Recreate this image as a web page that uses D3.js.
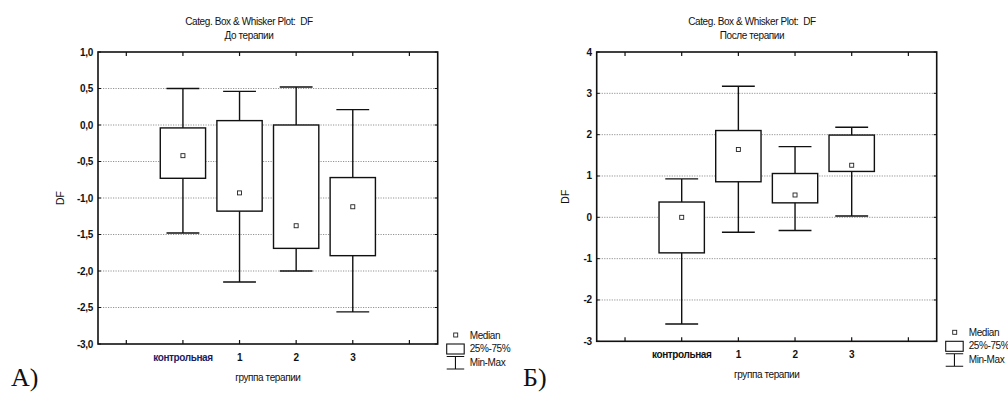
<!DOCTYPE html>
<html>
<head>
<meta charset="utf-8">
<script src="https://cdnjs.cloudflare.com/ajax/libs/d3/7.8.5/d3.min.js"></script>
<style>
  body { margin: 0; background: #fff; }
  svg { display: block; }
  text { font-family: "Liberation Sans", Arial, sans-serif; fill: #111; }
</style>
</head>
<body>
<svg width="1008" height="394"></svg>
<script>
// categories (same for both panels)
var categories = ["контрольная", "1", "2", "3"];

// До терапии
var beforeMin    = [-1.48, -2.15, -2.00, -2.56];
var beforeQ1     = [-0.73, -1.18, -1.69, -1.79];
var beforeMedian = [-0.42, -0.93, -1.38, -1.12];
var beforeQ3     = [-0.04,  0.06,  0.00, -0.72];
var beforeMax    = [ 0.50,  0.46,  0.52,  0.21];
var beforeTicks  = [1.0, 0.5, 0.0, -0.5, -1.0, -1.5, -2.0, -2.5, -3.0];

// После терапии
var afterMin    = [-2.58, -0.36, -0.32, 0.03];
var afterQ1     = [-0.86,  0.86,  0.35, 1.11];
var afterMedian = [ 0.00,  1.64,  0.54, 1.26];
var afterQ3     = [ 0.37,  2.10,  1.06, 1.99];
var afterMax    = [ 0.93,  3.17,  1.71, 2.18];
var afterTicks  = [4, 3, 2, 1, 0, -1, -2, -3];

var svg = d3.select("svg");

function panel(opt) {
  var g = svg.append("g");
  var x0 = opt.left, x1 = opt.right, y0 = opt.top, y1 = opt.bottom;

  var x = d3.scalePoint()
      .domain(categories)
      .range([x0, x1])
      .padding(1.5);
  var step = x.step();

  var y = d3.scaleLinear()
      .domain(d3.extent(opt.ticks))
      .range([y1, y0]);

  // titles
  g.append("text")
      .attr("x", opt.titleX).attr("y", 25)
      .attr("text-anchor", "middle")
      .style("font-size", "10px")
      .style("letter-spacing", "-0.4px")
      .style("white-space", "pre")
      .text("Categ. Box & Whisker Plot:  DF");
  g.append("text")
      .attr("x", opt.titleX).attr("y", 39)
      .attr("text-anchor", "middle")
      .style("font-size", "10px")
      .style("letter-spacing", "-0.4px")
      .text(opt.subtitle);

  // grid
  g.selectAll(".grid")
    .data(opt.ticks.filter(function (t) { return t !== y.domain()[0] && t !== y.domain()[1]; }))
    .enter().append("line")
      .attr("x1", x0).attr("x2", x1)
      .attr("y1", function (d) { return y(d); })
      .attr("y2", function (d) { return y(d); })
      .attr("stroke", "#777")
      .attr("stroke-width", 0.8)
      .attr("stroke-dasharray", "1.2,1.3");

  // y tick labels + small ticks
  g.selectAll(".ylab")
    .data(opt.ticks)
    .enter().append("text")
      .attr("x", x0 - 5)
      .attr("y", function (d) { return y(d) + 3.5; })
      .attr("text-anchor", "end")
      .style("font-size", "10px")
      .style("font-weight", "bold")
      .style("letter-spacing", "-0.3px")
      .text(function (d) { return opt.fmt(d); });
  g.selectAll(".ytk")
    .data(opt.ticks)
    .enter().append("path")
      .attr("d", function (d) {
        return "M" + x0 + "," + y(d) + "h3M" + x1 + "," + y(d) + "h-3";
      })
      .attr("stroke", "#111").attr("stroke-width", 1);

  // x ticks at every slot (incl. empty outer ones)
  var slots = [x(categories[0]) - step].concat(categories.map(function (c) { return x(c); }))
      .concat([x(categories[categories.length - 1]) + step]);
  g.selectAll(".xtk")
    .data(slots)
    .enter().append("path")
      .attr("d", function (d) { return "M" + d + "," + y0 + "v4M" + d + "," + y1 + "v-4"; })
      .attr("stroke", "#111").attr("stroke-width", 1.2);

  // x labels
  g.selectAll(".xlab")
    .data(categories)
    .enter().append("text")
      .attr("x", function (d) { return x(d); })
      .attr("y", y1 + 17)
      .attr("text-anchor", "middle")
      .style("font-size", "10px")
      .style("font-weight", "bold")
      .style("letter-spacing", "-0.4px")
      .style("fill", function (d, i) { return i === 0 ? opt.firstColor : "#111"; })
      .text(function (d) { return d; });

  // axis titles
  g.append("text")
      .attr("x", (x0 + x1) / 2).attr("y", y1 + 37)
      .attr("text-anchor", "middle")
      .style("font-size", "10px")
      .style("letter-spacing", "-0.4px")
      .text("группа терапии");
  g.append("text")
      .attr("transform", "translate(" + opt.dfX + "," + (y0 + y1) / 2 + ") rotate(-90)")
      .attr("text-anchor", "middle")
      .style("font-size", "10.5px")
      .text("DF");

  // boxes
  var bw = step * 0.8, cw = step * 0.58;
  var boxes = g.selectAll(".box")
    .data(categories.map(function (c, i) {
      return { c: c, min: opt.min[i], q1: opt.q1[i], med: opt.median[i], q3: opt.q3[i], max: opt.max[i] };
    }))
    .enter().append("g");

  boxes.append("path")
      .attr("d", function (d) {
        var cx = x(d.c);
        return "M" + cx + "," + y(d.max) + "V" + y(d.min) +
               "M" + (cx - cw / 2) + "," + y(d.max) + "h" + cw +
               "M" + (cx - cw / 2) + "," + y(d.min) + "h" + cw;
      })
      .attr("stroke", "#111").attr("stroke-width", 1.4).attr("fill", "none");
  boxes.append("rect")
      .attr("x", function (d) { return x(d.c) - bw / 2; })
      .attr("y", function (d) { return y(d.q3); })
      .attr("width", bw)
      .attr("height", function (d) { return y(d.q1) - y(d.q3); })
      .attr("fill", "#fff").attr("stroke", "#111").attr("stroke-width", 1.4);
  boxes.append("rect")
      .attr("x", function (d) { return x(d.c) - 2; })
      .attr("y", function (d) { return y(d.med) - 2; })
      .attr("width", 4).attr("height", 4)
      .attr("fill", "#fff").attr("stroke", "#222").attr("stroke-width", 0.9);

  // frame
  g.append("rect")
      .attr("x", x0).attr("y", y0)
      .attr("width", x1 - x0).attr("height", y1 - y0)
      .attr("fill", "none").attr("stroke", "#111").attr("stroke-width", 1.6);

  // legend
  var lx = x1 + 9, ly = y1 - 9;
  var lg = g.append("g").attr("transform", "translate(" + lx + "," + ly + ")");
  lg.append("rect").attr("x", 7).attr("y", -2).attr("width", 4).attr("height", 4)
      .attr("fill", "#fff").attr("stroke", "#222").attr("stroke-width", 0.9);
  lg.append("rect").attr("x", 0).attr("y", 9).attr("width", 17.5).attr("height", 10)
      .attr("fill", "#fff").attr("stroke", "#111").attr("stroke-width", 1.1);
  lg.append("path").attr("d", "M0,21.5h17.5M8.75,21.5V34M0,34h17.5")
      .attr("stroke", "#111").attr("stroke-width", 1.1);
  var legText = ["Median", "25%-75%", "Min-Max"];
  lg.selectAll(".lt").data(legText).enter().append("text")
      .attr("x", 23)
      .attr("y", function (d, i) { return 3.5 + i * 13.5; })
      .style("font-size", "10px")
      .style("letter-spacing", "-0.4px")
      .text(function (d) { return d; });

  // panel letter
  g.append("text")
      .attr("x", opt.letterX).attr("y", 386)
      .style("font-family", "'Liberation Serif', 'Times New Roman', serif")
      .style("font-size", "26px")
      .text(opt.letter);
}

var commaFmt = function (d) { return d3.format(".1f")(d).replace(".", ",").replace("\u2212", "-"); };
var intFmt = function (d) { return d3.format("d")(d).replace("\u2212", "-"); };

panel({
  left: 98, right: 437.7, top: 52, bottom: 344,
  ticks: beforeTicks, fmt: commaFmt,
  min: beforeMin, q1: beforeQ1, median: beforeMedian, q3: beforeQ3, max: beforeMax,
  subtitle: "До терапии", titleX: 249, dfX: 64,
  firstColor: "#1b1b66", letter: "А)", letterX: 11
});

panel({
  left: 596.7, right: 936.7, top: 52, bottom: 341.3,
  ticks: afterTicks, fmt: intFmt,
  min: afterMin, q1: afterQ1, median: afterMedian, q3: afterQ3, max: afterMax,
  subtitle: "После терапии", titleX: 752, dfX: 569,
  firstColor: "#111", letter: "Б)", letterX: 523
});
</script>
</body>
</html>
